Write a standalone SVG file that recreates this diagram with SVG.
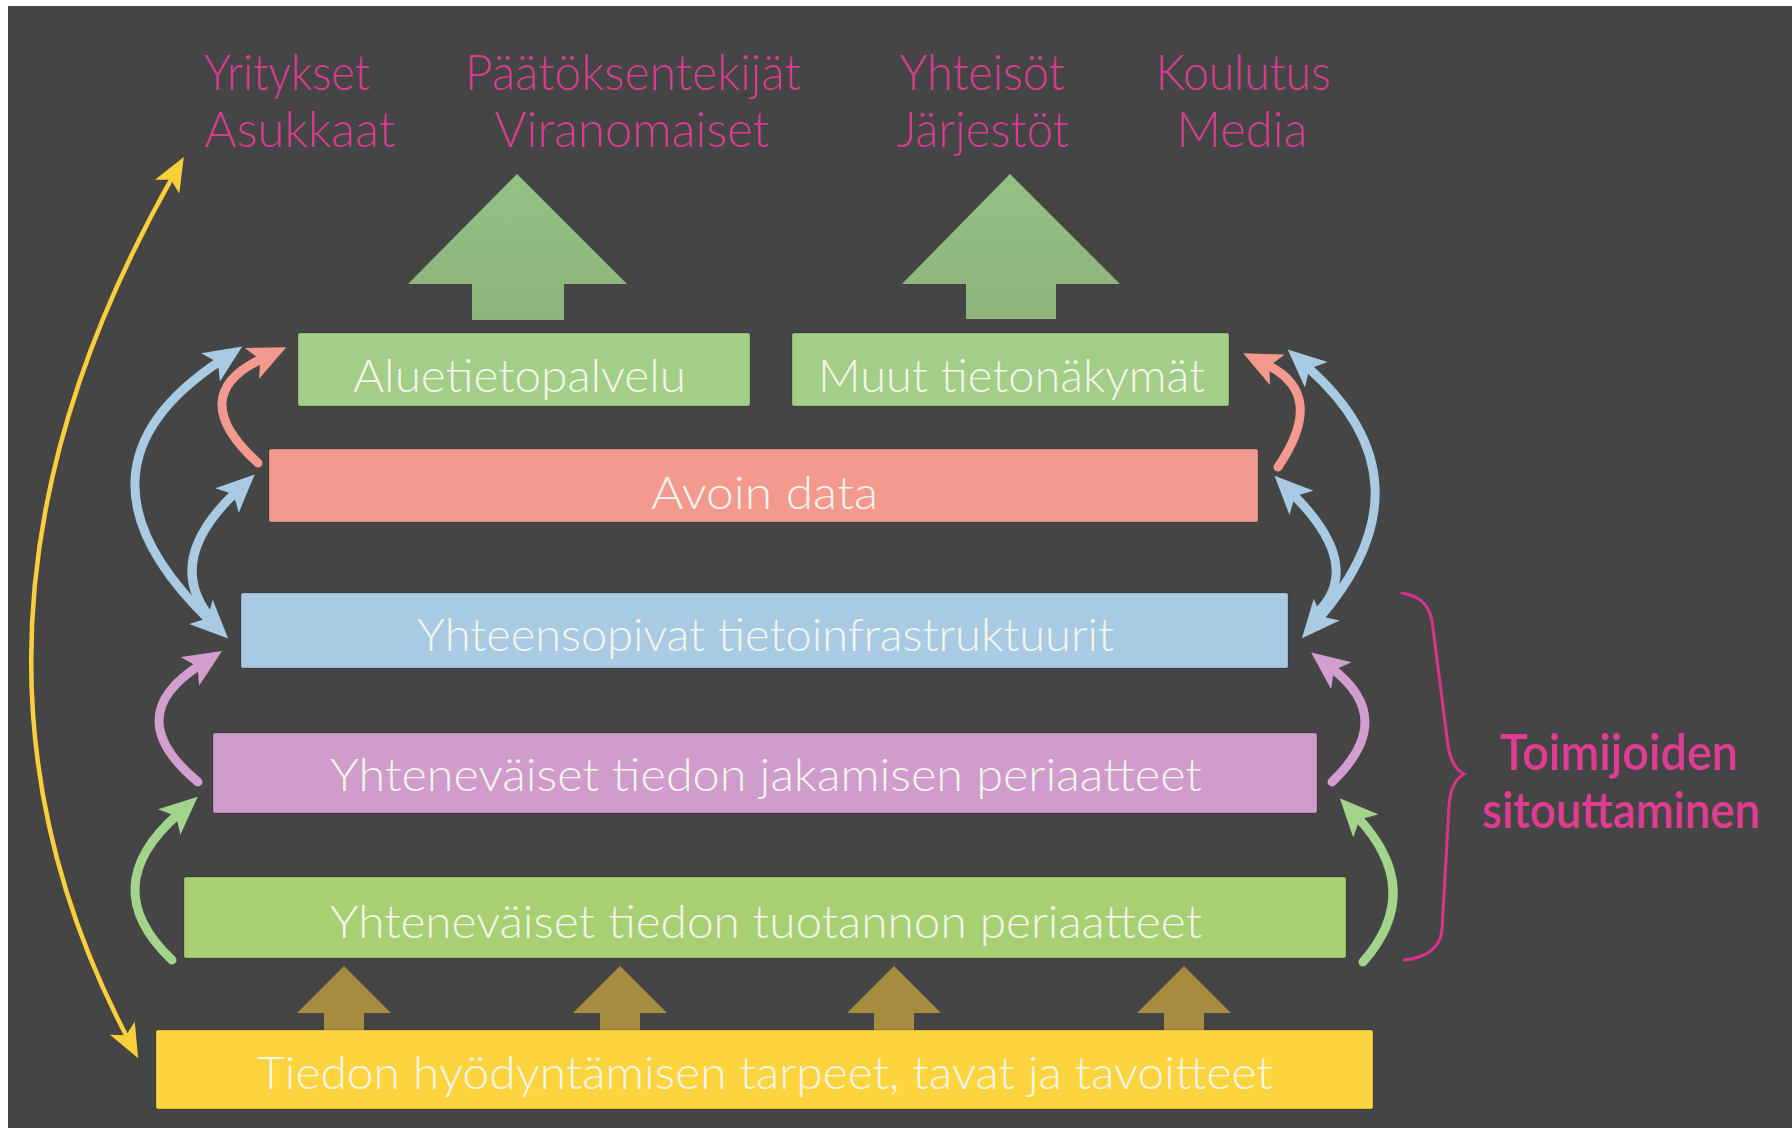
<svg xmlns="http://www.w3.org/2000/svg" width="1792" height="1128" viewBox="0 0 1792 1128">
<style>
.top{font-family:Lato,"Liberation Sans",sans-serif;font-size:49px;font-weight:300;fill:#d83d90;text-anchor:middle}
.side{font-family:Lato,"Liberation Sans",sans-serif;font-size:50px;font-weight:600;fill:#e03c94;text-anchor:middle}
.lbl{font-family:Lato,"Liberation Sans",sans-serif;font-size:45px;font-weight:300;fill:#f4f5ec;text-anchor:middle}
.box{stroke:#000;stroke-opacity:0.12;stroke-width:1.5}
.cv{fill:none;stroke-width:9;stroke-linecap:round}
</style>
<defs>
<linearGradient id="gArrow" x1="0" y1="0" x2="0" y2="1">
<stop offset="0" stop-color="#94c283"/>
<stop offset="1" stop-color="#8cb47c"/>
</linearGradient>
<marker id="mBlue" markerUnits="userSpaceOnUse" viewBox="0 0 38 34" markerWidth="38" markerHeight="34" refX="12" refY="17" orient="auto-start-reverse"><path d="M0,0 L38,17 L0,34 L9,17 z" fill="#a8cbe3"/></marker>
<marker id="mSalmon" markerUnits="userSpaceOnUse" viewBox="0 0 38 34" markerWidth="38" markerHeight="34" refX="12" refY="17" orient="auto-start-reverse"><path d="M0,0 L38,17 L0,34 L9,17 z" fill="#f3998d"/></marker>
<marker id="mPurple" markerUnits="userSpaceOnUse" viewBox="0 0 38 34" markerWidth="38" markerHeight="34" refX="12" refY="17" orient="auto-start-reverse"><path d="M0,0 L38,17 L0,34 L9,17 z" fill="#d39dcf"/></marker>
<marker id="mGreen" markerUnits="userSpaceOnUse" viewBox="0 0 38 34" markerWidth="38" markerHeight="34" refX="12" refY="17" orient="auto-start-reverse"><path d="M0,0 L38,17 L0,34 L9,17 z" fill="#a3d48c"/></marker>
<marker id="mYellow" markerUnits="userSpaceOnUse" viewBox="0 0 34 28" markerWidth="34" markerHeight="28" refX="10" refY="14" orient="auto-start-reverse"><path d="M0,0 L34,14 L0,28 L8,14 z" fill="#f9d03c"/></marker>
</defs>
<rect x="0" y="0" width="1792" height="1128" fill="#ffffff"/>
<rect x="8" y="6" width="1784" height="1122" fill="#454545"/>

<g id="audience">
<text class="top" x="287" y="90" textLength="166" lengthAdjust="spacingAndGlyphs">Yritykset</text>
<text class="top" x="300" y="147" textLength="191" lengthAdjust="spacingAndGlyphs">Asukkaat</text>
<text class="top" x="633" y="90" textLength="336" lengthAdjust="spacingAndGlyphs">Päätöksentekijät</text>
<text class="top" x="632" y="147" textLength="275" lengthAdjust="spacingAndGlyphs">Viranomaiset</text>
<text class="top" x="982" y="90" textLength="165" lengthAdjust="spacingAndGlyphs">Yhteisöt</text>
<text class="top" x="983" y="147" textLength="172" lengthAdjust="spacingAndGlyphs">Järjestöt</text>
<text class="top" x="1243" y="90" textLength="175" lengthAdjust="spacingAndGlyphs">Koulutus</text>
<text class="top" x="1242" y="147" textLength="131" lengthAdjust="spacingAndGlyphs">Media</text>
</g>

<g id="connectors">
<polygon points="517,174 627,284 564,284 564,320 472,320 472,284 408,284" fill="url(#gArrow)"/>
<polygon points="1010,174 1120,284 1056,284 1056,319 966,319 966,284 902,284" fill="url(#gArrow)"/>
<g fill="#a68c3e">
<polygon points="344,966 391,1013 364,1013 364,1030 324,1030 324,1013 297,1013"/>
<polygon points="620,966 667,1013 640,1013 640,1030 600,1030 600,1013 573,1013"/>
<polygon points="894,966 941,1013 914,1013 914,1030 874,1030 874,1013 847,1013"/>
<polygon points="1184,966 1231,1013 1204,1013 1204,1030 1164,1030 1164,1013 1137,1013"/>
</g>
<path d="M127,1037 Q-85,632 172,178" fill="none" stroke="#f9d03c" stroke-width="4.5" marker-start="url(#mYellow)" marker-end="url(#mYellow)"/>
<path class="cv" d="M209.5,620.3 Q55,470 220.5,360.8" stroke="#a8cbe3" marker-start="url(#mBlue)" marker-end="url(#mBlue)"/>
<path class="cv" d="M214,622 Q161,563 235.8,492.3" stroke="#a8cbe3" marker-end="url(#mBlue)"/>
<path class="cv" d="M258,463 Q183.6,395.4 262.8,358.3" stroke="#f3998d" marker-end="url(#mSalmon)"/>
<path class="cv" d="M198,782 Q119,716.5 200.1,665" stroke="#d39dcf" marker-end="url(#mPurple)"/>
<path class="cv" d="M172,960 Q95,887 178.2,814" stroke="#a3d48c" marker-end="url(#mGreen)"/>
<path class="cv" d="M1278,467 Q1327.7,394.2 1266.6,364.6" stroke="#f3998d" marker-end="url(#mSalmon)"/>
<path class="cv" d="M1318.9,618.6 Q1437,481.3 1307.2,366.8" stroke="#a8cbe3" marker-start="url(#mBlue)" marker-end="url(#mBlue)"/>
<path class="cv" d="M1317,613 Q1365,566.4 1292.9,494.2" stroke="#a8cbe3" marker-end="url(#mBlue)"/>
<path class="cv" d="M1332,782 Q1398,718.9 1331.8,668.3" stroke="#d39dcf" marker-end="url(#mPurple)"/>
<path class="cv" d="M1363,962 Q1425.8,890.4 1357.5,817.2" stroke="#a3d48c" marker-end="url(#mGreen)"/>
<path d="M1402,593 C1424,597 1431,608 1433,628 L1447,738 C1449,758 1454,769 1464,774 C1455,779 1450,790 1449,806 L1442,930 C1440,948 1426,958 1404,960" fill="none" stroke="#d8348b" stroke-width="3" stroke-linecap="round"/>
</g>

<g id="aluetietopalvelu">
<rect class="box" x="298" y="333" width="452" height="73" rx="2" fill="#a2ce88"/>
<text class="lbl" x="519.5" y="392" textLength="333" lengthAdjust="spacingAndGlyphs">Aluetietopalvelu</text>
</g>
<g id="muut">
<rect class="box" x="792" y="333" width="437" height="73" rx="2" fill="#a2ce88"/>
<text class="lbl" x="1011.5" y="392" textLength="387" lengthAdjust="spacingAndGlyphs">Muut tietonäkymät</text>
</g>
<g id="avoin">
<rect class="box" x="269" y="449" width="989" height="73" rx="2" fill="#f3998d"/>
<text class="lbl" x="764.5" y="509" textLength="227" lengthAdjust="spacingAndGlyphs">Avoin data</text>
</g>
<g id="infra">
<rect class="box" x="241" y="593" width="1047" height="75" rx="2" fill="#a8cbe3"/>
<text class="lbl" x="765.5" y="651" textLength="697" lengthAdjust="spacingAndGlyphs">Yhteensopivat tietoinfrastruktuurit</text>
</g>
<g id="jakaminen">
<rect class="box" x="213" y="733" width="1104" height="80" rx="2" fill="#d09ccb"/>
<text class="lbl" x="766" y="791" textLength="872" lengthAdjust="spacingAndGlyphs">Yhteneväiset tiedon jakamisen periaatteet</text>
</g>
<g id="tuotanto">
<rect class="box" x="184" y="877" width="1162" height="81" rx="2" fill="#a9cf73"/>
<text class="lbl" x="766" y="938" textLength="872" lengthAdjust="spacingAndGlyphs">Yhteneväiset tiedon tuotannon periaatteet</text>
</g>
<g id="tarpeet">
<rect class="box" x="156" y="1030" width="1217" height="79" rx="2" fill="#fcd43e"/>
<text class="lbl" x="765" y="1089" textLength="1016" lengthAdjust="spacingAndGlyphs">Tiedon hyödyntämisen tarpeet, tavat ja tavoitteet</text>
</g>
<g id="sitouttaminen">
<text class="side" x="1619" y="770" textLength="238" lengthAdjust="spacingAndGlyphs">Toimijoiden</text>
<text class="side" x="1621" y="828" textLength="278" lengthAdjust="spacingAndGlyphs">sitouttaminen</text>
</g>
</svg>
